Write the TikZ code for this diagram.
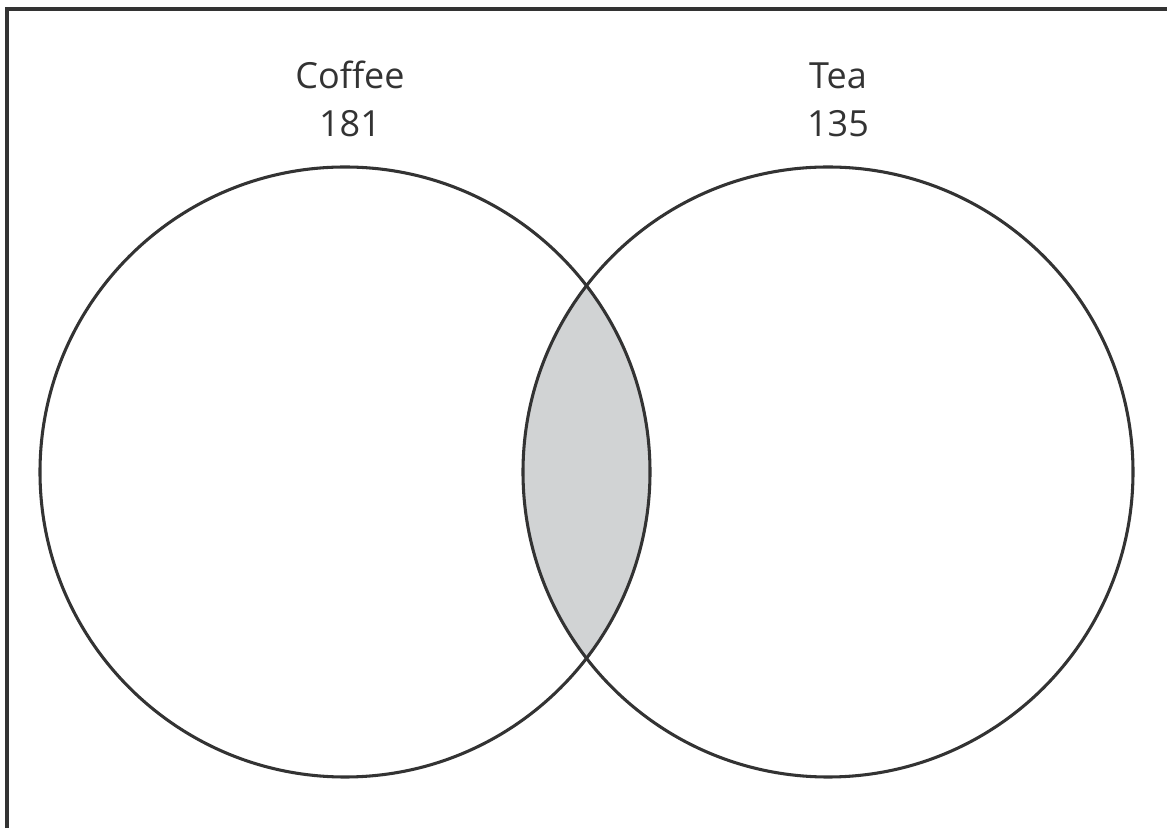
\documentclass[tikz,border=0pt]{standalone}
\usepackage{fontspec}
\setmainfont{Open Sans}
\definecolor{linec}{HTML}{333333}
\definecolor{lensc}{HTML}{D1D3D4}
\begin{document}
\begin{tikzpicture}[x=0.75pt,y=0.75pt,
  setline/.style={draw=linec,line width=2.3pt},
  frameline/.style={draw=linec,line width=2.6pt},
  lbl/.style={anchor=base,text=linec,font=\fontsize{27}{32}\selectfont,inner sep=0pt}]
\useasboundingbox (0,0) rectangle (1167,828);
\coordinate (cA) at (345,356);
\coordinate (cB) at (828,356);
\begin{scope}
  \clip (cA) circle (305);
  \fill[lensc] (cB) circle (305);
\end{scope}
\draw[setline] (cA) circle (305);
\draw[setline] (cB) circle (305);
\coordinate (fb) at (7,0);
\coordinate (fc) at (7,819);
\coordinate (fr) at (1167,819);
\draw[frameline] (fb) -- (fc) -- (fr);
\node[lbl] (coffee) at (350,739) {Coffee};
\node[lbl] (coffeen) at (350,691) {181};
\node[lbl] (tea) at (838,739) {Tea};
\node[lbl] (tean) at (838,691) {135};
\end{tikzpicture}
\end{document}
